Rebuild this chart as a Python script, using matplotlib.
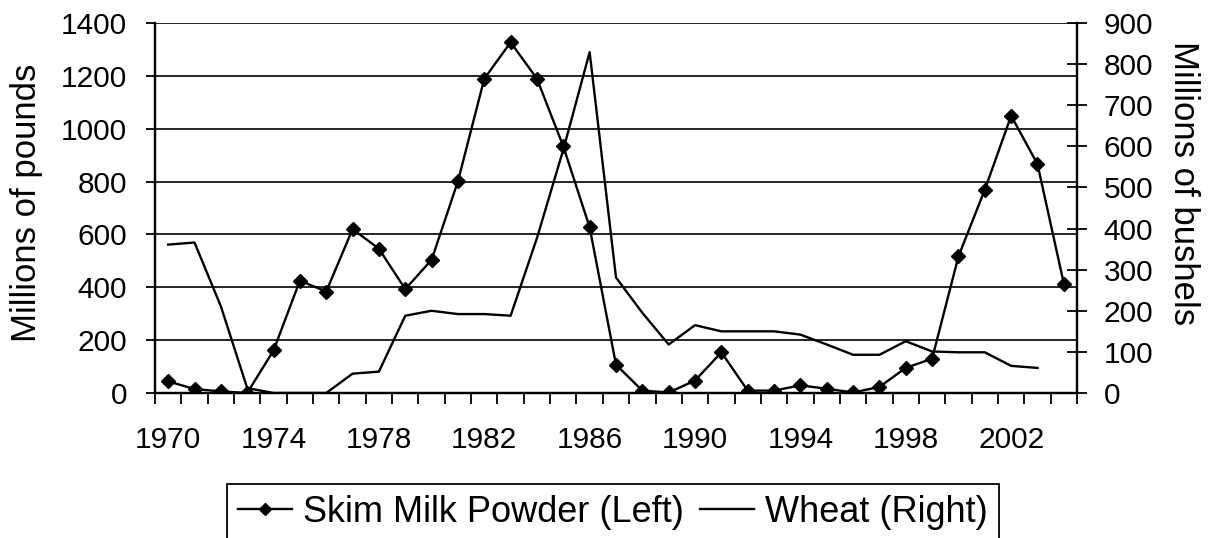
import matplotlib
matplotlib.use("Agg")
import matplotlib.pyplot as plt

plt.rcParams['font.family'] = ['Liberation Sans', 'DejaVu Sans']

years = list(range(1970, 2005))
skim_milk = [44, 15, 6, 0, 161, 425, 384, 620, 546, 393, 504, 801, 1189, 1327, 1189,
             933, 627, 107, 9, 2, 47, 154, 9, 9, 29, 16, 2, 23, 95, 130,
             517, 769, 1049, 866, 414]
wheat_years = list(range(1970, 2004))
wheat = [361, 366, 211, 12, 0, 0, 0, 47, 52, 188, 200, 192, 192, 188, 377,
         592, 829, 281, 195, 118, 165, 150, 150, 150, 142, 118, 93, 93, 126, 101,
         99, 99, 66, 61]
x_labels = [1970, 1974, 1978, 1982, 1986, 1990, 1994, 1998, 2002]
left_ticks = [0, 200, 400, 600, 800, 1000, 1200, 1400]
right_ticks = [0, 100, 200, 300, 400, 500, 600, 700, 800, 900]

W, H = 1210, 538
fig = plt.figure(figsize=(W / 100, H / 100), dpi=100)
ax = fig.add_axes([155 / W, 1 - 393 / H, (1077 - 155) / W, (393 - 23) / H])
ax2 = ax.twinx()

FS = 21.5
LFS = 25
GFS = 26

ax.set_ylim(0, 1400)
ax.set_yticks(left_ticks)
ax.set_yticklabels([str(v) for v in left_ticks], fontsize=FS)
ax.yaxis.grid(True, color='black', linewidth=1.2)
ax.set_axisbelow(True)
ax.tick_params(axis='y', direction='out', length=6.5, width=1.3, pad=13.5)

ax.set_xlim(years[0] - 0.5, years[-1] + 0.5)
ax.set_xticks(x_labels)
ax.set_xticklabels([str(v) for v in x_labels], fontsize=FS)
ax.tick_params(axis='x', which='major', length=0, pad=24)
ax.set_xticks([y - 0.5 for y in years] + [years[-1] + 0.5], minor=True)
ax.tick_params(axis='x', which='minor', direction='out', length=8, width=1.3)

ax2.set_ylim(0, 900)
ax2.set_yticks(right_ticks)
ax2.set_yticklabels([str(v) for v in right_ticks], fontsize=FS)
ax2.tick_params(axis='y', direction='inout', length=14.5, width=1.3, pad=12)

for a in (ax, ax2):
    for s in a.spines.values():
        s.set_linewidth(1.6)
        s.set_color('black')
    a.spines['top'].set_visible(False)

l1, = ax.plot(years, skim_milk, color='black', linewidth=1.7, marker='D',
              markersize=7.5, label='Skim Milk Powder (Left)', zorder=5)
l2, = ax2.plot(wheat_years, wheat, color='black', linewidth=1.7,
               label='Wheat (Right)', zorder=4)

ax.set_ylabel('Millions of pounds', fontsize=LFS)
ax.yaxis.set_label_coords(-0.1215, 0.514)
ax2.set_ylabel('Millions of bushels', fontsize=LFS, rotation=-90)
ax2.yaxis.set_label_coords(1.1334, 0.568)

leg = fig.legend(handles=[l1, l2], loc='upper left',
                 bbox_to_anchor=(227 / W, 1 - 484 / H),
                 ncol=2, fontsize=GFS, frameon=True, fancybox=False, edgecolor='black',
                 handlelength=1.5, handletextpad=0.3, columnspacing=0.45,
                 borderpad=0.3, borderaxespad=0, markerscale=0.8, framealpha=1)
leg.get_frame().set_linewidth(1.3)

fig.savefig('out.png', dpi=100)
